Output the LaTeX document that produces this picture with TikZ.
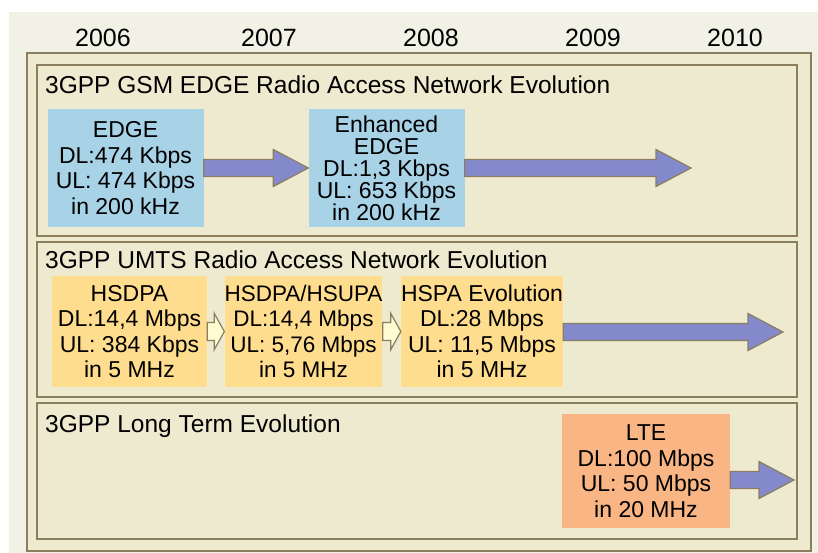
\documentclass[tikz,border=0pt]{standalone}
\usepackage{fontspec}
\setmainfont{Liberation Sans}
\usetikzlibrary{calc,positioning}

\definecolor{paper}{HTML}{F2F1E5}
\definecolor{tanfill}{HTML}{EEEAD0}
\definecolor{rim}{HTML}{8B7E5E}
\definecolor{skyblue}{HTML}{A8D3E7}
\definecolor{apricot}{HTML}{FFDD8E}
\definecolor{salmon}{HTML}{F9B584}
\definecolor{periwinkle}{HTML}{8489CC}
\definecolor{cream}{HTML}{FFFBD2}

\begin{document}
\begin{tikzpicture}[x=1pt,y=-1pt,
	panel/.style={draw=rim,fill=tanfill,line width=1.6pt},
	title/.style={anchor=base west,inner sep=0pt,font=\fontsize{24.5}{26}\selectfont},
	year/.style={anchor=base,inner sep=0pt,font=\fontsize{25}{26}\selectfont},
	box/.style={inner sep=0pt,align=center,font=\fontsize{23}{25.5}\selectfont},
	bluebox/.style={box,fill=skyblue,minimum width=156pt,minimum height=118pt},
	yellowbox/.style={box,fill=apricot,minimum width=155pt,minimum height=111pt},
	ltebox/.style={box,fill=salmon,minimum width=168pt,minimum height=114pt},
	fatarrow/.style n args={3}{to path={let \p1=(\tikztostart), \p2=(\tikztotarget) in
		(\x1,\y2+#1) -- (\x2-#3,\y2+#1) -- (\x2-#3,\y2+#2) -- (\x2,\y2)
		-- (\x2-#3,\y2-#2) -- (\x2-#3,\y2-#1) -- (\x1,\y2-#1) -- cycle}},
	bigarrow/.style={draw=rim,line width=1.2pt,fill=periwinkle,fatarrow={8.5pt}{18.5pt}{35pt}},
	smallarrow/.style={draw=rim,line width=1.2pt,fill=cream,fatarrow={9pt}{18pt}{10pt}}
	]
	
	\useasboundingbox (0,0) rectangle (818,553);
	\fill[paper] (9,12) rectangle (818,553);
	\draw[panel] (27,53) rectangle (811,551);
	
	% years
	\node[year] (y2006) at (103,47) {2006};
	\node[year] (y2007) at (269,47) {2007};
	\node[year] (y2008) at (431,47) {2008};
	\node[year] (y2009) at (593,47) {2009};
	\node[year] (y2010) at (735,47) {2010};
	
	% GSM EDGE
	\draw[panel] (37,65) rectangle (797,236);
	\node[title] (gsm) at (45,94) {3GPP GSM EDGE Radio Access Network Evolution};
	\node[bluebox] (edge) at (125.5,168) {EDGE\\DL:474 Kbps\\UL: 474 Kbps\\in 200 kHz};
	\node[bluebox,font=\fontsize{23}{22}\selectfont] (eedge) at (386.5,168)
		{Enhanced\\EDGE\\DL:1,3 Kbps\\UL: 653 Kbps\\in 200 kHz};
	\coordinate (gsmend) at (691,168);
	\draw[bigarrow] (edge.east) to (eedge.west);
	\draw[bigarrow] (eedge.east) to (gsmend);
	
	% UMTS
	\draw[panel] (37,242) rectangle (797,397);
	\node[title] (umts) at (45,268) {3GPP UMTS Radio Access Network Evolution};
	\node[yellowbox] (hsdpa) at (129.5,331.5) {HSDPA\\DL:14,4 Mbps\\UL: 384 Kbps\\in 5 MHz};
	\node[yellowbox,font=\fontsize{22.5}{25.5}\selectfont] (hsupa) at (303.5,331.5)
		{HSDPA/HSUPA\\DL:14,4 Mbps\\UL: 5,76 Mbps\\in 5 MHz};
	\node[yellowbox,minimum width=154pt] (hspa) at (482,331.5) {HSPA Evolution\\DL:28 Mbps\\UL: 11,5 Mbps\\in 5 MHz};
	\coordinate (umtsend) at (783,332);
	\draw[smallarrow] (hsdpa.east) to (hsupa.west);
	\draw[smallarrow] (hsupa.east) to (hspa.west);
	\draw[bigarrow] (hspa.east) to (umtsend);
	
	% LTE
	\draw[panel] (37,403) rectangle (797,539);
	\node[title] (lteline) at (45,432) {3GPP Long Term Evolution};
	\node[ltebox] (lte) at (646,471) {LTE\\DL:100 Mbps\\UL: 50 Mbps\\in 20 MHz};
	\coordinate (lteend) at (794,480);
	\draw[bigarrow] (lte.east) to (lteend);
	
\end{tikzpicture}
\end{document}
